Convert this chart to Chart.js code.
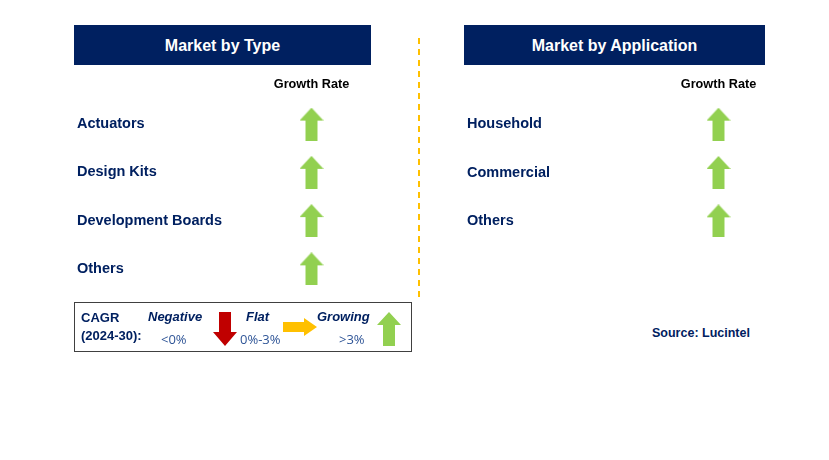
<!DOCTYPE html>
<html>
<head>
<meta charset="utf-8">
<script src="https://cdn.jsdelivr.net/npm/chart.js@4.4.0/dist/chart.umd.min.js"></script>
<style>
  body { margin: 0; background: #fff; width: 829px; height: 460px; position: relative; overflow: hidden;
         font-family: "Liberation Sans", Arial, sans-serif; }
  .hdr { position: absolute; top: 25px; height: 40px; background: #002060; color: #fff;
         font: bold 16px "Liberation Sans", Arial, sans-serif; display: flex; align-items: center; justify-content: center; padding-top: 1px; box-sizing: border-box; }
  .wrap { position: absolute; }
  .legend { position: absolute; left: 74px; top: 302px; width: 336px; height: 48px; border: 1.5px solid #404040; }
  .legend span { position: absolute; white-space: nowrap; }
  .lb { font: bold 13px "Liberation Sans", Arial, sans-serif; color: #002060; }
  .li { font: italic bold 13px "Liberation Sans", Arial, sans-serif; color: #002060; }
  .lv { font: 13px "Open Sans", sans-serif; color: #2f5597; }
  .legend svg { position: absolute; }
  .src { position: absolute; left: 652px; top: 326px; font: bold 12.5px "Liberation Sans", Arial, sans-serif; color: #002060; }
</style>
</head>
<body>
<div class="hdr" style="left:74px;width:297px;">Market by Type</div>
<div class="hdr" style="left:464px;width:301px;">Market by Application</div>
<svg style="position:absolute;left:414px;top:38px" width="10" height="262">
  <line x1="5" y1="0" x2="5" y2="262" stroke="#ffc000" stroke-width="2" stroke-dasharray="6 5"/>
</svg>
<div class="wrap" style="left:77px;top:70px;width:312px;height:236px;"><canvas id="typeChart"></canvas></div>
<div class="wrap" style="left:467px;top:70px;width:346px;height:188px;"><canvas id="appChart"></canvas></div>

<div class="legend">
  <span class="lb" style="left:6px;top:7px;">CAGR</span>
  <span class="lb" style="left:6px;top:25px;">(2024-30):</span>
  <span class="li" style="left:73px;top:6px;">Negative</span>
  <span class="lv" style="left:86px;top:27px;">&lt;0%</span>
  <svg style="left:138px;top:9px" width="24" height="34"><polygon points="6,0 18,0 18,20 24,20 12,34 0,20 6,20" fill="#c00000"/></svg>
  <span class="li" style="left:171px;top:6px;">Flat</span>
  <span class="lv" style="left:165px;top:27px;">0%-3%</span>
  <svg style="left:208px;top:15px" width="34" height="18"><polygon points="0,4 21,4 21,0 34,9 21,18 21,14 0,14" fill="#ffc000"/></svg>
  <span class="li" style="left:242px;top:6px;">Growing</span>
  <span class="lv" style="left:264px;top:27px;">&gt;3%</span>
  <svg style="left:302px;top:9px" width="24" height="34"><polygon points="12,0 24,13 18,13 18,34 6,34 6,13 0,13" fill="#92d050"/></svg>
</div>
<div class="src">Source: Lucintel</div>

<script>
// categories and growth outlook
const typeCategories = ['Actuators', 'Design Kits', 'Development Boards', 'Others'];
const typeGrowth = ['Growing', 'Growing', 'Growing', 'Growing'];
const appCategories = ['Household', 'Commercial', 'Others'];
const appGrowth = ['Growing', 'Growing', 'Growing'];
const columnLabels = ['Growth Rate'];

const navy = '#002060';

// arrow icons used as point styles
function makeArrow(color) {
  const c = document.createElement('canvas');
  c.width = 24; c.height = 33;
  const g = c.getContext('2d');
  g.fillStyle = color;
  g.beginPath();
  g.moveTo(12, 0); g.lineTo(24, 13); g.lineTo(18, 13); g.lineTo(18, 33);
  g.lineTo(6, 33); g.lineTo(6, 13); g.lineTo(0, 13); g.closePath();
  g.fill();
  return c;
}
const arrows = { Growing: makeArrow('#92d050') };

function buildChart(id, categories, growth, axisWidth) {
  return new Chart(document.getElementById(id), {
    type: 'line',
    data: {
      datasets: [{
        data: categories.map(c => ({ x: columnLabels[0], y: c })),
        showLine: false,
        pointStyle: growth.map(g => arrows[g]),
        pointRadius: 12
      }]
    },
    options: {
      responsive: true,
      maintainAspectRatio: false,
      animation: false,
      events: [],
      layout: { padding: 0 },
      plugins: { legend: { display: false }, tooltip: { enabled: false } },
      scales: {
        x: {
          type: 'category', labels: columnLabels, position: 'top', offset: true,
          border: { display: false },
          grid: { display: false, drawTicks: false },
          ticks: { color: '#000', font: { family: 'Liberation Sans', weight: 'bold', size: 12.7 }, padding: 8 },
          afterFit: s => { s.height = 30; }
        },
        y: {
          type: 'category', labels: categories, offset: true,
          border: { display: false },
          grid: { display: false, drawTicks: false },
          ticks: { color: navy, crossAlign: 'far', font: { family: 'Liberation Sans', weight: 'bold', size: 14.5 } },
          afterFit: s => { s.width = axisWidth; }
        }
      }
    }
  });
}

buildChart('typeChart', typeCategories, typeGrowth, 170);
buildChart('appChart', appCategories, appGrowth, 170);
</script>
</body>
</html>
